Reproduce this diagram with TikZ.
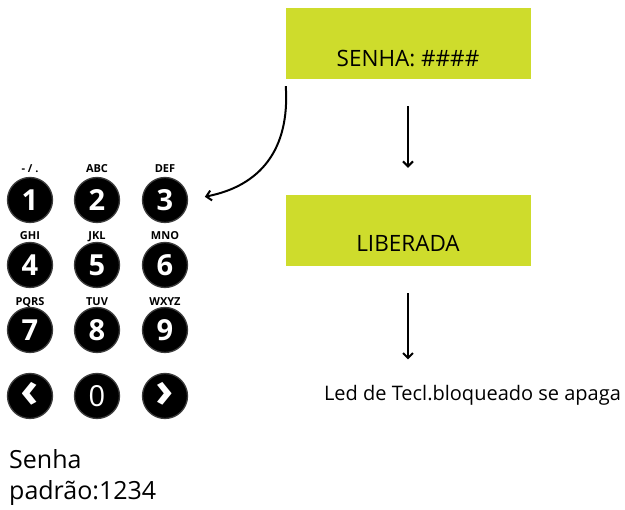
\documentclass[tikz,border=0pt]{standalone}
\usepackage{fontspec}
\setmainfont{Open Sans}
\usetikzlibrary{arrows.meta}

\definecolor{lime}{RGB}{206,220,44}
\definecolor{keyring}{RGB}{60,60,60}

\tikzset{
  screen/.style={fill=lime, inner xsep=0pt, inner ysep=0pt,
    minimum width=245pt, font=\fontsize{22.5}{26}\selectfont},
  key/.style={circle, fill=black, draw=keyring, line width=1.3pt,
    minimum size=45pt, inner sep=0pt, text=white,
    font=\bfseries\fontsize{29}{30}\selectfont},
  chevron/.style={key, font=\bfseries\fontsize{50}{50}\selectfont},
  keytag/.style={font=\bfseries\fontsize{11}{12}\selectfont, anchor=base},
  flow/.style={line width=2pt, -{Straight Barb[length=5pt,width=10pt]}}
}

\begin{document}
\begin{tikzpicture}[x=1pt,y=-1pt]
  \useasboundingbox (0,0) rectangle (625,510);

  \node[screen, text height=59pt, text depth=12pt] (senha) at (408,43.5) {SENHA: \#\#\#\#};
  \node[screen, text height=57pt, text depth=14pt] (liberada) at (408,230.5) {LIBERADA};
  \node[font=\fontsize{20}{24}\selectfont] (led) at (472.5,395) {Led de Tecl.bloqueado se apaga};

  \node[key] (k1) at (30,200) {1};
  \node[key] (k2) at (97,200) {2};
  \node[key] (k3) at (165,200) {3};
  \node[key] (k4) at (30,265) {4};
  \node[key] (k5) at (97,265) {5};
  \node[key] (k6) at (165,265) {6};
  \node[key] (k7) at (30,330) {7};
  \node[key] (k8) at (97,330) {8};
  \node[key] (k9) at (165,330) {9};
  \node[chevron] (kl) at (30,396) {\raisebox{3pt}{‹}};
  \node[key, font=\fontsize{29}{30}\selectfont] (k0) at (97,396) {0};
  \node[chevron] (kr) at (165,396) {\raisebox{3pt}{›}};

  \node[keytag] (t1) at (30,173) {- / .};
  \node[keytag] (t2) at (97,173) {ABC};
  \node[keytag] (t3) at (165,173) {DEF};
  \node[keytag] (t4) at (30,240) {GHI};
  \node[keytag] (t5) at (97,240) {JKL};
  \node[keytag] (t6) at (165,240) {MNO};
  \node[keytag] (t7) at (30,306) {PQRS};
  \node[keytag] (t8) at (97,306) {TUV};
  \node[keytag] (t9) at (165,306) {WXYZ};

  \node[anchor=north west, align=left, inner sep=0pt,
        font=\fontsize{25}{31}\selectfont] (padrao) at (9,449) {Senha\\padrão:1234};

  \draw[flow, shorten <=27pt, shorten >=27pt] (senha) -- (liberada);
  \draw[flow, shorten <=27pt, shorten >=22pt] (liberada.south) -- (liberada.south |- led.north);
  \draw[flow, shorten <=7pt, shorten >=17pt] (senha.south west)
     .. controls (290,150) and (260,186) .. (k3.east);
\end{tikzpicture}
\end{document}
